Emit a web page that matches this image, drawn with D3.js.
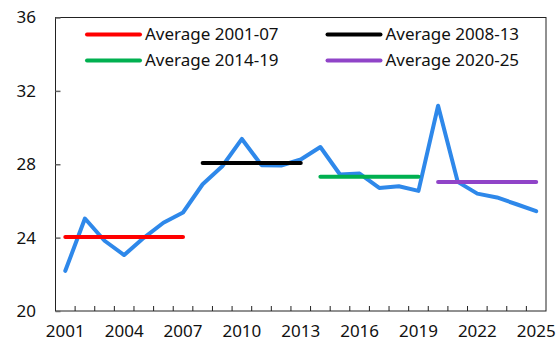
<!DOCTYPE html>
<html>
<head>
<meta charset="utf-8">
<script src="https://cdn.jsdelivr.net/npm/d3@7"></script>
<style>
  html, body { margin: 0; padding: 0; background: #fff; }
  svg { display: block; font-family: "Noto Sans", "Open Sans", sans-serif; }
</style>
</head>
<body>
<svg id="chart" width="557" height="347"></svg>
<script>
// Annual series, 2001-2025
const years = d3.range(2001, 2026);
const values = [22.19, 25.04, 23.83, 23.05, 23.99, 24.81, 25.37, 26.91, 27.89, 29.38,
                27.95, 27.93, 28.26, 28.94, 27.44, 27.49, 26.71, 26.80, 26.55, 31.19,
                27.04, 26.40, 26.19, 25.82, 25.44];

// Period averages
const periodLabels = ["Average 2001-07", "Average 2008-13", "Average 2014-19", "Average 2020-25"];
const periodStart = [2001, 2008, 2014, 2020];
const periodEnd = [2007, 2013, 2019, 2025];
const periodAvg = [24.04, 28.07, 27.32, 27.03];
const periodColors = ["#ff0000", "#000000", "#00b050", "#9044c8"];

const yTicks = [20, 24, 28, 32, 36];
const xTickLabels = [2001, 2004, 2007, 2010, 2013, 2016, 2019, 2022, 2025];

const svg = d3.select("#chart");
const m = { left: 55.5, right: 546, top: 17.5, bottom: 311 };
const fontSize = 17;

const x = d3.scaleBand().domain(years).range([m.left, m.right]);
const xc = d => x(d) + x.bandwidth() / 2;
const y = d3.scaleLinear().domain([20, 36]).range([m.bottom, m.top]);

// Plot frame
svg.append("rect")
  .attr("x", m.left).attr("y", m.top)
  .attr("width", m.right - m.left).attr("height", m.bottom - m.top)
  .attr("fill", "none").attr("stroke", "#222").attr("stroke-width", 1);

// Y axis: inward ticks, labels outside
const yAxis = d3.axisLeft(y).tickValues(yTicks).tickSizeInner(-5).tickSizeOuter(0).tickPadding(19.5);
const gy = svg.append("g").attr("transform", `translate(${m.left},0)`).call(yAxis);
gy.select(".domain").remove();
gy.selectAll(".tick line").attr("stroke", "#666").attr("stroke-width", 1.5);
gy.selectAll(".tick text").attr("font-size", fontSize).attr("fill", "#111")
  .attr("font-family", "Noto Sans, sans-serif");

// X axis: tick marks at band boundaries, labels every third year
const boundaries = years.slice(1).map(d => x(d));
svg.append("g").selectAll("line").data(boundaries).join("line")
  .attr("x1", d => d).attr("x2", d => d)
  .attr("y1", m.bottom).attr("y2", m.bottom - 5)
  .attr("stroke", "#222").attr("stroke-width", 1);

svg.append("g").selectAll("text").data(xTickLabels).join("text")
  .attr("x", d => xc(d)).attr("y", 336.5)
  .attr("text-anchor", "middle").attr("font-size", fontSize).attr("fill", "#111")
  .text(d => d);

// Main series line
const line = d3.line().x((d, i) => xc(years[i])).y(d => y(d));
svg.append("path").datum(values)
  .attr("d", line)
  .attr("fill", "none").attr("stroke", "#2e88ea").attr("stroke-width", 4)
  .attr("stroke-linejoin", "round").attr("stroke-linecap", "round");

// Period average segments
svg.append("g").selectAll("line").data(periodAvg).join("line")
  .attr("x1", (d, i) => xc(periodStart[i])).attr("x2", (d, i) => xc(periodEnd[i]))
  .attr("y1", d => y(d)).attr("y2", d => y(d))
  .attr("stroke", (d, i) => periodColors[i]).attr("stroke-width", 4)
  .attr("stroke-linecap", "round");

// Legend
const legendPos = [[87, 34.5], [327.5, 34.5], [87, 60.5], [327.5, 60.5]];
const lg = svg.append("g").selectAll("g").data(periodLabels).join("g")
  .attr("transform", (d, i) => `translate(${legendPos[i][0]},${legendPos[i][1]})`);
lg.append("line").attr("x1", 0).attr("x2", 53).attr("y1", 0).attr("y2", 0)
  .attr("stroke", (d, i) => periodColors[i]).attr("stroke-width", 4).attr("stroke-linecap", "round");
lg.append("text").attr("x", 58).attr("y", 0).attr("dy", "0.35em")
  .attr("font-size", fontSize).attr("fill", "#111").text(d => d);
</script>
</body>
</html>
